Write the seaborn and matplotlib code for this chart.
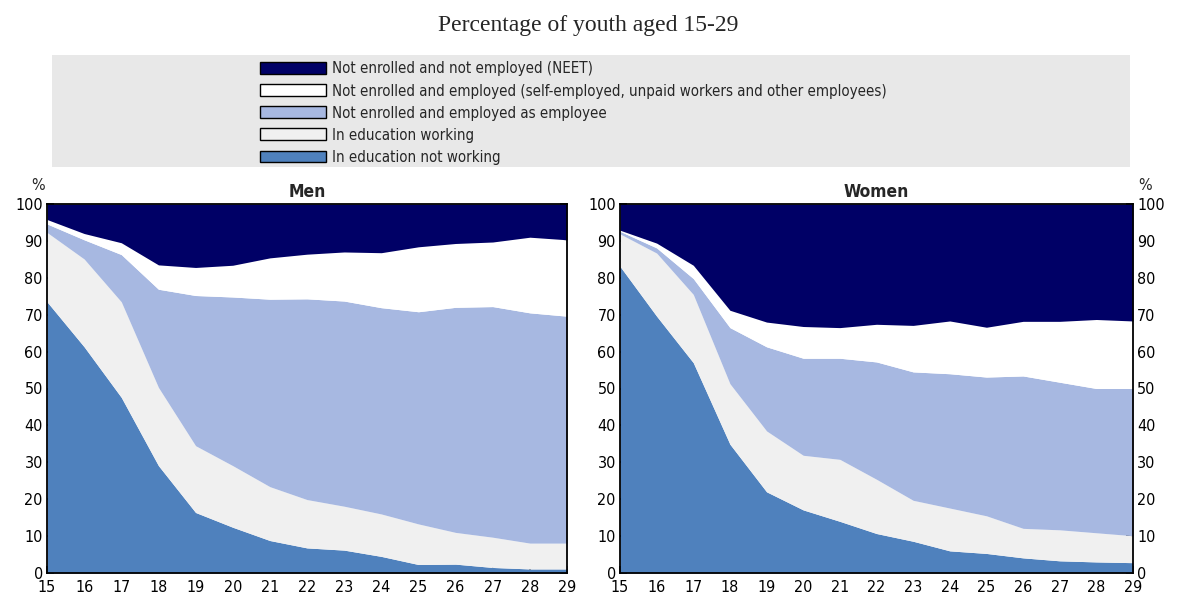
import matplotlib.pyplot as plt
import matplotlib.patches as mpatches
import numpy as np
import pandas as pd
import seaborn as sns

# ages on the x axis
ages = list(range(15, 30))

series = [
    "In education not working",
    "In education working",
    "Not enrolled and employed as employee",
    "Not enrolled and employed (self-employed, unpaid workers and other employees)",
    "Not enrolled and not employed (NEET)",
]
colors = ["#4f81bd", "#f0f0f0", "#a7b8e1", "#ffffff", "#000066"]

# cumulative upper bounds (%) of each layer
men_edu_not_working = [73.5, 61.3, 47.6, 29.1, 16.4, 12.4, 8.8, 6.8, 6.2, 4.5, 2.3, 2.4, 1.5, 1.1, 1.1]
men_edu_working = [92.3, 85.1, 73.5, 50.3, 34.5, 29.1, 23.4, 19.9, 18.1, 16.0, 13.3, 11.0, 9.7, 8.1, 8.1]
men_employee = [94.6, 90.3, 86.3, 76.9, 75.2, 74.8, 74.2, 74.3, 73.7, 71.9, 70.8, 72.0, 72.2, 70.5, 69.6]
men_other_employed = [95.8, 92.0, 89.5, 83.5, 82.8, 83.4, 85.4, 86.4, 87.0, 86.8, 88.4, 89.3, 89.7, 91.0, 90.3]
men_neet = [100] * 15

women_edu_not_working = [83.1, 69.6, 57.0, 34.9, 22.0, 17.1, 14.0, 10.7, 8.6, 6.0, 5.3, 4.1, 3.3, 3.0, 2.8]
women_edu_working = [91.9, 86.7, 75.5, 51.3, 38.5, 31.9, 30.8, 25.4, 19.7, 17.6, 15.5, 12.1, 11.7, 10.9, 10.1]
women_employee = [92.6, 88.1, 79.8, 66.5, 61.3, 58.2, 58.2, 57.2, 54.5, 54.0, 53.1, 53.4, 51.7, 50.0, 50.0]
women_other_employed = [92.9, 89.4, 83.4, 71.2, 68.0, 66.8, 66.5, 67.4, 67.1, 68.3, 66.6, 68.2, 68.2, 68.7, 68.3]
women_neet = [100] * 15

men = pd.DataFrame(dict(zip(series, [men_edu_not_working, men_edu_working, men_employee,
                                      men_other_employed, men_neet])), index=ages)
women = pd.DataFrame(dict(zip(series, [women_edu_not_working, women_edu_working, women_employee,
                                        women_other_employed, women_neet])), index=ages)

sns.set_theme(style="ticks")
plt.rcParams['font.family'] = ['DejaVu Sans']
plt.rcParams['font.stretch'] = 'condensed'

fig = plt.figure(figsize=(11.77, 5.94), dpi=100)
W, H = 1177, 594


def add_axes(x0, x1, y_top, y_bot):
    return fig.add_axes([x0 / W, (H - y_bot) / H, (x1 - x0) / W, (y_bot - y_top) / H])


def draw_panel(ax, df, title, right_labels):
    lower = np.zeros(len(df))
    for name, col in zip(series, colors):
        upper = df[name].values
        ax.fill_between(df.index, lower, upper, color=col, linewidth=0)
        lower = upper
    ax.set_xlim(15, 29)
    ax.set_ylim(0, 100)
    ax.set_xticks(ages)
    ax.set_yticks(range(0, 101, 10))
    ax.tick_params(axis='both', direction='in', length=5, width=1.2, labelsize=11.5,
                   colors='black', pad=3)
    ax.tick_params(axis='y', right=True, labelright=right_labels)
    ax.tick_params(axis='x', pad=5)
    for s in ax.spines.values():
        s.set_linewidth(1.3)
        s.set_color('black')
    ax.set_title(title, fontsize=12.5, fontweight='bold', pad=5)


ax1 = add_axes(47, 567, 204, 573)
ax2 = add_axes(620, 1133, 204, 573)
draw_panel(ax1, men, "Men", False)
draw_panel(ax2, women, "Women", True)

fig.text(38 / W, 1 - 185 / H, "%", fontsize=11.5, ha='center', va='center')
fig.text(1145 / W, 1 - 185 / H, "%", fontsize=11.5, ha='center', va='center')

# title
fig.text(0.5, 1 - 26 / H, "Percentage of youth aged 15-29", ha='center', va='center',
         fontsize=17, family=['Liberation Serif', 'DejaVu Serif'], stretch='normal')

# legend background
fig.patches.append(mpatches.Rectangle((52 / W, 1 - 167 / H), (1130 - 52) / W, (167 - 55) / H,
                                      transform=fig.transFigure, facecolor='#e8e8e8',
                                      edgecolor='none', zorder=0))
handles = [mpatches.Patch(facecolor=c, edgecolor='black', linewidth=1.0)
           for c in colors[::-1]]
fig.legend(handles, series[::-1], loc='upper left', bbox_to_anchor=(249 / W, 1 - 51 / H),
           frameon=False, fontsize=10.8, handlelength=4.4, handleheight=0.85,
           handletextpad=0.4, labelspacing=0.47, borderpad=0.2)

fig.savefig("out.png", dpi=100)
